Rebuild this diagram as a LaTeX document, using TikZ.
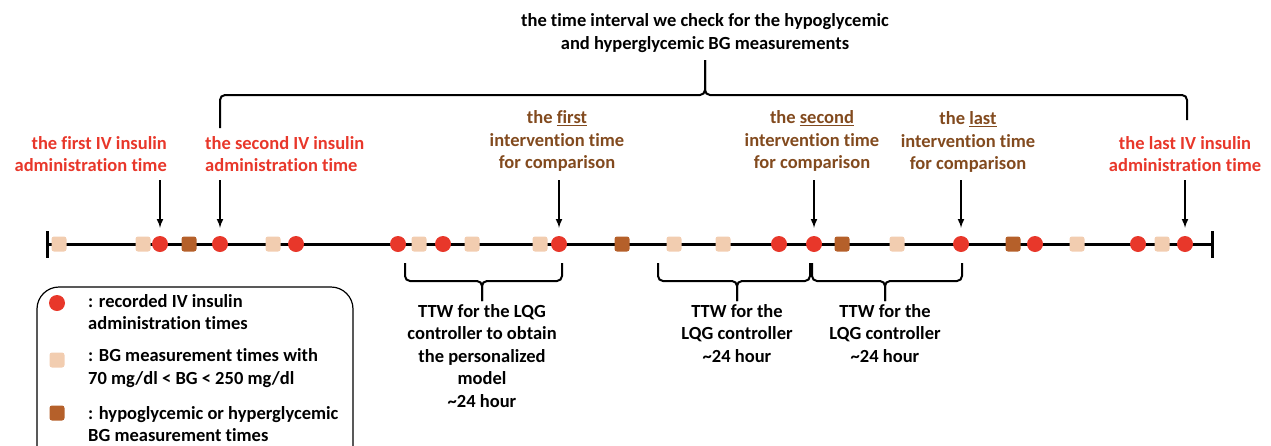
\documentclass[tikz,border=0pt]{standalone}
\usepackage{fontspec}
\setmainfont{Carlito}[Ligatures=NoCommon]
\usetikzlibrary{calc}
\definecolor{insred}{HTML}{E8372A}
\definecolor{bgpeach}{HTML}{F2CDB0}
\definecolor{bgbrown}{HTML}{B5602A}
\definecolor{txtbrown}{HTML}{824A1E}
\tikzset{
  insulin/.style={circle,fill=insred,inner sep=0pt,minimum size=16},
  bgok/.style={rectangle,rounded corners=2.5,fill=bgpeach,inner sep=0pt,minimum size=15},
  bgbad/.style={rectangle,rounded corners=2.5,fill=bgbrown,inner sep=0pt,minimum size=15},
  lbl/.style={font=\fontsize{18.5}{22.5}\selectfont\bfseries,inner sep=3pt},
  brace/.style={line width=2,rounded corners=5},
}
\begin{document}
\begin{tikzpicture}[x=1pt,y=-1pt,>=latex]
\useasboundingbox (0,0) rectangle (1271,445);
\clip (0,0) rectangle (1271,445);
        % the time line with its two end ticks
        \coordinate (tstart) at (47,244);
        \coordinate (tend) at (1212,244);
        \draw[line width=3] (tstart) -- (tend);
        \draw[line width=3] ($(tstart)+(0,-13)$) -- ($(tstart)+(0,14)$);
        \draw[line width=3] ($(tend)+(0,-13)$) -- ($(tend)+(0,14)$);
        % markers along the time line
        \foreach \x/\kind/\name in {
            59/bgok/t1, 143/bgok/t2, 160/insulin/t3, 189/bgbad/t4,
            220/insulin/t5, 273/bgok/t6, 296/insulin/t7, 398/insulin/t8,
            419/bgok/t9, 443/insulin/t10, 472/bgok/t11, 540/bgok/t12,
            559/insulin/t13, 622/bgbad/t14, 674/bgok/t15, 723/bgok/t16,
            779/insulin/t17, 814/insulin/t18, 842/bgbad/t19, 897/bgok/t20,
            961/insulin/t21, 1013/bgbad/t22, 1035/insulin/t23, 1077/bgok/t24,
            1138/insulin/t25, 1162/bgok/t26, 1185/insulin/t27}
                \node[\kind] (\name) at (\x,244) {};
        % labels above the time line
        \node[lbl,text=insred,align=right,anchor=east] (firstiv) at (170,154)
            {the first IV insulin\\administration time};
        \node[lbl,text=insred,align=left,anchor=west] (secondiv) at (202,154)
            {the second IV insulin\\administration time};
        \node[lbl,text=txtbrown,align=center] (firstcmp) at (557,141)
            {the \underline{first}\\intervention time\\for comparison};
        \node[lbl,text=txtbrown,align=center] (secondcmp) at (812,141)
            {the \underline{second}\\intervention time\\for comparison};
        \node[lbl,text=txtbrown,align=center] (lastcmp) at (968,142)
            {the \underline{last}\\intervention time\\for comparison};
        \node[lbl,text=insred,align=center] (lastiv) at (1185,154)
            {the last IV insulin\\administration time};
        % arrows down to the marked times
        \foreach \from/\to in {firstiv/t3, secondiv/t5, firstcmp/t13,
                               secondcmp/t18, lastcmp/t21, lastiv/t27}
                \draw[->,line width=2] (\to |- 0,180) -- ([yshift=8]\to.north);
        % the checked interval, brace on top
        \node[lbl,align=center] (check) at (705,33)
            {the time interval we check for the hypoglycemic\\and hyperglycemic BG measurements};
        \coordinate (topl) at (220,128);
        \coordinate (topr) at (1187,120);
        \coordinate (toptip) at (705,60);
        \draw[brace] (topl) |- (toptip |- 0,95) -- (toptip);
        \draw[brace] (topr) |- (toptip |- 0,95) -- (toptip);
        % the training windows, braces below
        \foreach \l/\r/\m/\name in {405/562/482/ttwa, 658/810/737/ttwb, 812/962/885/ttwc} {
                \coordinate (\name l) at (\l,263);
                \coordinate (\name r) at (\r,263);
                \coordinate (\name tip) at (\m,301);
                \draw[brace] (\name l) |- (\name tip |- 0,281) -- (\name tip);
                \draw[brace] (\name r) |- (\name tip |- 0,281) -- (\name tip);
        }
        \node[lbl,align=center,anchor=north] (ttwatext) at (ttwatip)
            {TTW for the LQG\\controller to obtain\\the personalized\\model\\\textasciitilde24 hour};
        \node[lbl,align=center,anchor=north] (ttwbtext) at (ttwbtip)
            {TTW for the\\LQG controller\\\textasciitilde24 hour};
        \node[lbl,align=center,anchor=north] (ttwctext) at (ttwctip)
            {TTW for the\\LQG controller\\\textasciitilde24 hour};
        % legend
        \draw[line width=1.2,rounded corners=22] (37,287) rectangle (353,480);
        \node[insulin] (keyins) at (57,303) {};
        \node[bgok] (keyok) at (57,360) {};
        \node[bgbad] (keybad) at (57,413) {};
        \node[lbl,align=left,anchor=west] (keyinstext) at (85,312)
            {: recorded IV insulin\\administration times};
        \node[lbl,align=left,anchor=west] (keyoktext) at (85,368)
            {: BG measurement times with\\70 mg/dl < BG < 250 mg/dl};
        \node[lbl,align=left,anchor=west] (keybadtext) at (85,424)
            {: hypoglycemic or hyperglycemic\\BG measurement times};
\end{tikzpicture}
\end{document}
